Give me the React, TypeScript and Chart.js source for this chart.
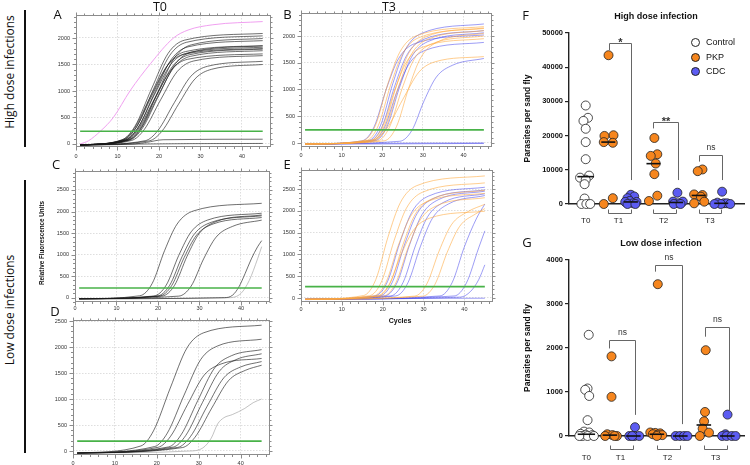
import React, { useEffect, useRef } from 'react';
import { Chart, registerables } from 'chart.js';

Chart.register(...registerables);

type Pt = [number, number];

// ======================= DATA =======================
// qPCR amplification plots: every curve is a short list of [cycle, RFU] points
const CYCLE_TICKS = [0, 10, 20, 30, 40];
const RFU_TICKS_2000 = [0, 500, 1000, 1500, 2000];
const RFU_TICKS_2500 = [0, 500, 1000, 1500, 2000, 2500];
const THRESHOLD_CYCLES = [1, 45];

const A_THRESHOLD = 240;
const A_PINK: Pt[][] = [
  [[1, 0], [3, 60], [6, 250], [9, 500], [13, 1000], [18, 1520], [23.5, 2000], [27, 2150], [33, 2250], [45, 2310]],
];
const A_BLACK: Pt[][] = [
  [[1, -20], [11.2, 83], [14.2, 334], [18.2, 1040], [22.2, 1710], [26.2, 1960], [45, 2085]],
  [[1, -20], [11.6, 82], [14.6, 326], [18.6, 1020], [22.6, 1673], [26.6, 1918], [45, 2040]],
  [[1, -20], [12, 78], [15, 312], [19, 975], [23, 1599], [27, 1833], [45, 1950]],
  [[1, -20], [11.4, 74], [14.4, 297], [18.4, 928], [22.4, 1521], [26.4, 1744], [45, 1855]],
  [[1, -20], [11.8, 73], [14.8, 292], [18.8, 913], [22.8, 1497], [26.8, 1716], [45, 1825]],
  [[1, -20], [12.3, 72], [15.3, 286], [19.3, 895], [23.3, 1468], [27.3, 1683], [45, 1790]],
  [[1, -20], [12.6, 70], [15.6, 282], [19.6, 880], [23.6, 1443], [27.6, 1654], [45, 1760]],
  [[1, -20], [13, 74], [16, 296], [20, 925], [24, 1517], [28, 1739], [45, 1850]],
  [[1, -20], [13.4, 67], [16.4, 267], [20.4, 834], [24.4, 1367], [28.4, 1567], [45, 1667]],
  [[1, -20], [11.9, 68], [14.9, 272], [18.9, 850], [22.9, 1394], [26.9, 1598], [45, 1700]],
  [[1, -20], [11, 72], [14, 288], [18, 900], [22, 1476], [26, 1692], [45, 1800]],
  [[1, -20], [12.8, 80], [15.8, 318], [19.8, 995], [23.8, 1632], [27.8, 1871], [45, 1990]],
  [[1, -20], [16.7, 62], [19.7, 250], [23.7, 780], [27.7, 1279], [31.7, 1466], [45, 1560]],
  [[1, -20], [17.7, 60], [20.7, 240], [24.7, 750], [28.7, 1230], [32.7, 1410], [45, 1500]],
  [[1, -20], [14, 0], [17, 30], [21, 80], [45, 90]],
  [[1, -25], [10, -5], [45, 10]],
];

const B_THRESHOLD = 245;
const B_ORANGE: Pt[][] = [
  [[1, -20], [15.3, 44], [18.3, 326], [21.3, 1088], [24.3, 1697], [28.3, 2001], [45, 2175]],
  [[1, -20], [16, 43], [19, 321], [22, 1070], [25, 1669], [29, 1969], [45, 2140]],
  [[1, -20], [17, 39], [20, 293], [23, 975], [26, 1521], [30, 1794], [45, 1950]],
  [[1, -20], [18, 42], [21, 315], [24, 1050], [27, 1638], [31, 1932], [45, 2100]],
  [[1, -20], [18.8, 40], [21.8, 300], [24.8, 1000], [27.8, 1560], [31.8, 1840], [45, 2000]],
  [[1, -20], [18, 65], [21, 258], [25, 808], [29, 1324], [33, 1518], [45, 1615]],
  [[1, -20], [20.5, 41], [23.5, 308], [26.5, 1025], [29.5, 1599], [33.5, 1886], [45, 2050]],
  [[1, -20], [17.5, 43], [20.5, 323], [23.5, 1075], [26.5, 1677], [30.5, 1978], [45, 2150]],
];
const B_BLUE: Pt[][] = [
  [[1, -20], [15, 40], [18, 303], [21, 1010], [24, 1576], [28, 1858], [45, 2020]],
  [[1, -20], [16.6, 45], [19.6, 334], [22.6, 1113], [25.6, 1736], [29.6, 2047], [45, 2225]],
  [[1, -20], [17, 42], [20, 315], [23, 1050], [26, 1638], [30, 1932], [45, 2100]],
  [[1, -20], [17.5, 38], [20.5, 282], [23.5, 940], [26.5, 1466], [30.5, 1730], [45, 1880]],
  [[1, -20], [18.2, 41], [21.2, 309], [24.2, 1030], [27.2, 1607], [31.2, 1895], [45, 2060]],
  [[1, -20], [24.3, 32], [27.3, 237], [30.3, 790], [33.3, 1232], [37.3, 1454], [45, 1580]],
  [[1, -30], [10, -10], [45, 0]],
  [[1, -25], [45, -8]],
];

const C_THRESHOLD = 225;
const C_BLACK: Pt[][] = [
  [[1, -25], [15.6, 44], [18.6, 329], [21.6, 1095], [24.6, 1708], [28.6, 2015], [45, 2190]],
  [[1, -25], [19, 39], [22, 294], [25, 980], [28, 1529], [32, 1803], [45, 1960]],
  [[1, -25], [19.8, 38], [22.8, 285], [25.8, 950], [28.8, 1482], [32.8, 1748], [45, 1900]],
  [[1, -25], [20.3, 37], [23.3, 279], [26.3, 930], [29.3, 1451], [33.3, 1711], [45, 1860]],
  [[1, -25], [21, 38], [24, 288], [27, 960], [30, 1498], [34, 1766], [45, 1920]],
  [[1, -25], [25, 36], [28, 270], [31, 900], [34, 1404], [38, 1656], [45, 1800]],
  [[1, -25], [36, 0], [38, 60], [39.5, 250], [41, 560], [42.5, 900], [44, 1180], [45, 1324]],
];
const C_LIGHT: Pt[][] = [
  [[1, -25], [37, 0], [40, 100], [42, 400], [44, 900], [45, 1185]],
];

const D_THRESHOLD = 190;
const D_BLACK: Pt[][] = [
  [[1, -40], [16.2, 97], [19.2, 387], [23.2, 1210], [27.2, 1984], [31.2, 2275], [45, 2420]],
  [[1, -40], [19.5, 86], [22.5, 344], [26.5, 1075], [30.5, 1763], [34.5, 2021], [45, 2150]],
  [[1, -40], [20.3, 71], [23.3, 285], [27.3, 890], [31.3, 1460], [35.3, 1673], [45, 1780]],
  [[1, -40], [22.8, 78], [25.8, 312], [29.8, 975], [33.8, 1599], [37.8, 1833], [45, 1950]],
  [[1, -40], [23.9, 75], [26.9, 299], [30.9, 935], [34.9, 1533], [38.9, 1758], [45, 1870]],
  [[1, -40], [25, 69], [28, 275], [32, 860], [36, 1410], [40, 1617], [45, 1720]],
  [[1, -40], [26.1, 66], [29.1, 264], [33.1, 825], [37.1, 1353], [41.1, 1551], [45, 1650]],
];
const D_LIGHT: Pt[][] = [
  [[1, -40], [28, 0], [31, 60], [33, 250], [34.5, 520], [36, 640], [38, 700], [41, 820], [43, 930], [45, 1000]],
];

const E_THRESHOLD = 260;
const E_ORANGE: Pt[][] = [
  [[1, -30], [15.3, 56], [18.3, 420], [21.3, 1400], [24.3, 2184], [28.3, 2576], [45, 2800]],
  [[1, -30], [16.8, 53], [19.8, 396], [22.8, 1320], [25.8, 2059], [29.8, 2429], [45, 2640]],
  [[1, -30], [17.8, 48], [20.8, 360], [23.8, 1200], [26.8, 1872], [30.8, 2208], [45, 2400]],
  [[1, -30], [19, 49], [22, 371], [25, 1235], [28, 1927], [32, 2272], [45, 2470]],
  [[1, -30], [20.2, 46], [23.2, 345], [26.2, 1150], [29.2, 1794], [33.2, 2116], [45, 2300]],
  [[1, -30], [18.5, 40], [21.5, 299], [24.5, 995], [27.5, 1552], [31.5, 1831], [45, 1990]],
  [[1, -30], [27.8, 43], [30.8, 323], [33.8, 1075], [36.8, 1677], [40.8, 1978], [45, 2150]],
  [[1, -30], [29.8, 42], [32.8, 315], [35.8, 1050], [38.8, 1638], [42.8, 1932], [45, 2050]],
];
const E_BLUE: Pt[][] = [
  [[1, -30], [18.2, 51], [21.2, 381], [24.2, 1270], [27.2, 1981], [31.2, 2337], [45, 2540]],
  [[1, -30], [19.4, 50], [22.4, 372], [25.4, 1240], [28.4, 1934], [32.4, 2282], [45, 2480]],
  [[1, -30], [20.6, 49], [23.6, 368], [26.6, 1225], [29.6, 1911], [33.6, 2254], [45, 2450]],
  [[1, -30], [22, 48], [25, 359], [28, 1195], [31, 1864], [35, 2199], [45, 2390]],
  [[1, -30], [23.2, 47], [26.2, 353], [29.2, 1175], [32.2, 1833], [36.2, 2162], [45, 2350]],
  [[1, -30], [34, 47], [37, 353], [40, 1175], [43, 1833], [45, 2155]],
  [[1, -30], [37.5, 46], [40.5, 345], [43.5, 1150], [45, 1540]],
  [[1, -30], [39, 20], [41.5, 150], [43.5, 420], [45, 760]],
  [[1, -40], [10, -20], [45, -5]],
];

// Parasite counts per sand fly (dot plots F and G)
const TIME_LABELS = ['T0', 'T1', 'T2', 'T3'];
const TIME_LABEL_SLOTS = [0, 1.45, 3.45, 5.5];
const F_Y_TICKS = [0, 10000, 20000, 30000, 40000, 50000];
const G_Y_TICKS = [0, 1000, 2000, 3000, 4000];

const F_CONTROL_T0 = [28800, 25200, 24300, 22000, 18100, 13100, 8300, 7700, 7100, 5800, 1600, 0, 0, 0];
const F_CONTROL_T0_SPREAD = [0, 0.1, -0.1, 0, 0, 0, 0.15, -0.25, 0, -0.05, -0.05, -0.19, 0.03, 0.2];
const F_PKP_T1 = [43500, 20100, 19900, 18100, 17900, 1700, 0];
const F_PKP_T1_SPREAD = [0.01, 0.23, -0.17, -0.2, 0.2, 0.2, -0.2];
const F_CDC_T1 = [2700, 2200, 1700, 900, 600, 600, 200, 0, 0];
const F_CDC_T1_SPREAD = [0, 0.15, -0.15, -0.05, -0.25, 0.25, 0.1, -0.15, 0.2];
const F_PKP_T2 = [19300, 14550, 14070, 11830, 8730, 2430, 870];
const F_PKP_T2_SPREAD = [0.04, 0.17, -0.12, 0.1, 0.04, 0.17, -0.2];
const F_CDC_T2 = [3300, 700, 700, 200, 0, 0];
const F_CDC_T2_SPREAD = [0.06, -0.13, 0.3, 0.1, -0.1, 0.2];
const F_PKP_T3 = [10100, 9600, 2800, 2620, 2130, 680, 200];
const F_PKP_T3_SPREAD = [0.17, -0.04, -0.2, 0.17, 0.1, 0.25, -0.2];
const F_CDC_T3 = [3600, 400, 200, 200, 0, 0, 0];
const F_CDC_T3_SPREAD = [0.04, -0.17, 0.12, 0.26, -0.02, -0.3, 0.4];
const F_MEDIANS = [8000, 18100, 600, 11800, 450, 2500, 200];

const G_CONTROL_T0 = [2300, 1080, 1050, 910, 360, 100, 80, 50, 30, 20, 0, 0, 0, 0];
const G_CONTROL_T0_SPREAD = [0.1, 0.05, -0.05, 0.12, 0.05, -0.1, 0.12, -0.25, -0.03, 0.25, -0.17, 0.05, 0.32, -0.3];
const G_PKP_T1 = [1810, 890, 40, 20, 0, 0, 0];
const G_PKP_T1_SPREAD = [0.07, 0.07, -0.11, 0.11, 0.3, -0.2, 0.2];
const G_CDC_T1 = [200, 0, 0, 0, 0];
const G_CDC_T1_SPREAD = [0.07, -0.17, 0.05, 0.25, -0.05];
const G_PKP_T2 = [3450, 80, 70, 60, 40, 30, 20, 0];
const G_PKP_T2_SPREAD = [0.04, -0.28, -0.07, 0.14, -0.17, 0.04, 0.23, 0];
const G_CDC_T2 = [0, 0, 0, 0];
const G_CDC_T2_SPREAD = [-0.2, -0.02, 0.16, 0.3];
const G_PKP_T3 = [1950, 546, 334, 167, 76, 0];
const G_PKP_T3_SPREAD = [0.08, 0.05, 0.01, -0.05, 0.22, -0.17];
const G_CDC_T3 = [486, 40, 0, 0, 0, 0];
const G_CDC_T3_SPREAD = [0.01, -0.08, -0.22, -0.03, 0.19, 0.35];
const G_MEDIANS = [40, 20, 0, 40, 0, 250, 0];

// significance brackets: [left slot, right slot, top value, left foot value, right foot value, label]
const F_SIGNIFICANCE: [number, number, number, number, number, string][] = [
  [1.04, 2, 47200, 45000, 7000, '*'],
  [3, 4.1, 24000, 22100, 7000, '**'],
  [5.03, 6.04, 14300, 12400, 7000, 'ns'],
];
const G_SIGNIFICANCE: [number, number, number, number, number, string][] = [
  [0.97, 2.07, 2180, 1990, 480, 'ns'],
  [2.9, 4.05, 3886, 3735, 270, 'ns'],
  [5.07, 6.07, 2470, 2257, 590, 'ns'],
];
const GROUP_BRACKETS: [number, number][] = [[1, 2], [3, 4], [5, 6]];

// ======================= STYLE / LAYOUT =======================
const FONT = "'Liberation Sans', Arial, sans-serif";
const SANS = "'Open Sans', 'Noto Sans', sans-serif";
const BLACK_LINE = 'rgba(25,25,25,0.78)';
const PINK_LINE = 'rgba(238,150,238,0.9)';
const ORANGE_LINE = 'rgba(255,168,60,0.72)';
const BLUE_LINE = 'rgba(55,55,235,0.62)';
const LIGHT_LINE = 'rgba(170,170,170,0.9)';
const GREEN_LINE = 'rgb(72,178,72)';
const CONTROL_FILL = '#ffffff';
const PKP_FILL = 'rgb(246,134,30)';
const CDC_FILL = 'rgb(92,92,242)';

interface QBox {
  left: number; top: number; width: number; height: number;
  yAxisW: number; xAxisH: number; padTop: number; padRight: number; xLabelPad: number;
  yMin: number; yMax: number;
}
const A_BOX: QBox = { left: 40, top: 5, width: 235, height: 156, yAxisW: 36, xAxisH: 14, padTop: 10, padRight: 4, xLabelPad: 5.7, yMin: -57, yMax: 2434 };
const B_BOX: QBox = { left: 265, top: 3, width: 231, height: 158, yAxisW: 36, xAxisH: 14, padTop: 10, padRight: 4, xLabelPad: 5.2, yMin: -75, yMax: 2430 };
const C_BOX: QBox = { left: 39, top: 161, width: 235, height: 155, yAxisW: 36, xAxisH: 14, padTop: 10, padRight: 4, xLabelPad: 3.5, yMin: -100, yMax: 2940 };
const D_BOX: QBox = { left: 37, top: 310, width: 237, height: 157, yAxisW: 36, xAxisH: 12, padTop: 10, padRight: 4, xLabelPad: 4.7, yMin: -77, yMax: 2520 };
const E_BOX: QBox = { left: 265, top: 160, width: 232, height: 156, yAxisW: 36, xAxisH: 14, padTop: 10, padRight: 4, xLabelPad: 3.8, yMin: -92, yMax: 2936 };
const CYCLE_MAX = 47;

interface CurveGroup { curves: Pt[][]; color: string; width?: number }

const qpcrFrame = {
  id: 'qpcrFrame',
  afterDraw(chart: any) {
    const { ctx, chartArea: a, scales } = chart;
    const x = scales.x;
    const y = scales.y;
    ctx.save();
    ctx.strokeStyle = '#8c8c8c';
    ctx.lineWidth = 1;
    const l = Math.round(a.left) + 0.5;
    const t = Math.round(a.top) + 0.5;
    const r = Math.round(a.right) - 0.5;
    const b = Math.round(a.bottom) - 0.5;
    ctx.strokeRect(l, t, r - l, b - t);
    ctx.beginPath();
    for (let c = 0; c <= x.max + 1e-6; c += 2) {
      const px = Math.round(x.getPixelForValue(c)) + 0.5;
      const major = c % 10 === 0;
      ctx.moveTo(px, b); ctx.lineTo(px, b + (major ? 4 : 2.5));
      ctx.moveTo(px, t); ctx.lineTo(px, t - (major ? 3 : 2));
    }
    for (let v = Math.ceil(y.min / 100) * 100; v <= y.max; v += 100) {
      const py = Math.round(y.getPixelForValue(v)) + 0.5;
      const major = v % 500 === 0;
      ctx.moveTo(l, py); ctx.lineTo(l - (major ? 4 : 2.5), py);
      ctx.moveTo(r, py); ctx.lineTo(r + (major ? 3 : 2), py);
    }
    ctx.stroke();
    ctx.restore();
  },
};

function qpcrConfig(box: QBox, groups: CurveGroup[], threshold: number, yTicks: number[]): any {
  const datasets: any[] = [
    {
      data: THRESHOLD_CYCLES.map((c) => ({ x: c, y: threshold })),
      borderColor: GREEN_LINE, borderWidth: 1.6, pointRadius: 0,
    },
  ];
  groups.forEach((g) =>
    g.curves.forEach((curve) =>
      datasets.push({
        data: curve.map(([c, v]) => ({ x: c, y: v })),
        borderColor: g.color, borderWidth: g.width ?? 0.8, pointRadius: 0,
        cubicInterpolationMode: 'monotone', fill: false,
      }),
    ),
  );
  const grid = { color: '#d0d0d0', lineWidth: 0.7, drawTicks: false };
  const border = { display: false, dash: [1.5, 1.5] };
  const tickFont = { size: 5.5, family: FONT };
  return {
    type: 'line',
    data: { datasets },
    options: {
      responsive: false, animation: false, events: [],
      layout: { padding: { top: box.padTop, right: box.padRight, left: 0, bottom: 0 } },
      plugins: { legend: { display: false }, tooltip: { enabled: false } },
      scales: {
        x: {
          type: 'linear', min: 0, max: CYCLE_MAX,
          afterBuildTicks: (s: any) => { s.ticks = CYCLE_TICKS.map((v) => ({ value: v })); },
          afterFit: (s: any) => { s.height = box.xAxisH; },
          ticks: { font: tickFont, color: '#333', padding: box.xLabelPad, maxRotation: 0, autoSkip: false, callback: (v: any) => String(v) },
          grid, border,
        },
        y: {
          type: 'linear', min: box.yMin, max: box.yMax,
          afterBuildTicks: (s: any) => { s.ticks = yTicks.map((v) => ({ value: v })); },
          afterFit: (s: any) => { s.width = box.yAxisW; },
          ticks: { font: tickFont, color: '#333', padding: 6, autoSkip: false, callback: (v: any) => String(v) },
          grid, border,
        },
      },
    },
    plugins: [qpcrFrame],
  };
}

interface DotBox {
  left: number; top: number; width: number; height: number;
  yAxisW: number; xAxisH: number; padTop: number; padRight: number; xLabelPad: number;
  xMin: number; xMax: number; yMax: number; bracketGap: number;
}
const F_BOX: DotBox = { left: 519, top: 20, width: 231, height: 208, yAxisW: 50, xAxisH: 24, padTop: 13, padRight: 2, xLabelPad: 11.5, xMin: -0.74, xMax: 7.04, yMax: 50000, bracketGap: 9.3 };
const G_BOX: DotBox = { left: 519, top: 245, width: 231, height: 219, yAxisW: 50, xAxisH: 28, padTop: 15, padRight: 0, xLabelPad: 17, xMin: -0.74, xMax: 6.74, yMax: 4000, bracketGap: 13.3 };

interface DotGroup { slot: number; values: number[]; spread: number[]; fill: string }

function sigPlugin(sig: [number, number, number, number, number, string][], gap: number) {
  return {
    id: 'sig',
    afterDraw(chart: any) {
      const { ctx, scales, chartArea } = chart;
      const x = scales.x;
      const y = scales.y;
      ctx.save();
      ctx.strokeStyle = '#666';
      ctx.lineWidth = 1;
      ctx.fillStyle = '#333';
      ctx.textAlign = 'center';
      ctx.textBaseline = 'alphabetic';
      sig.forEach(([s1, s2, top, footL, footR, label]) => {
        const x1 = Math.round(x.getPixelForValue(s1)) + 0.5;
        const x2 = Math.round(x.getPixelForValue(s2)) + 0.5;
        const yt = Math.round(y.getPixelForValue(top)) + 0.5;
        ctx.beginPath();
        ctx.moveTo(x1, y.getPixelForValue(footL));
        ctx.lineTo(x1, yt);
        ctx.lineTo(x2, yt);
        ctx.lineTo(x2, y.getPixelForValue(footR));
        ctx.stroke();
        if (label === 'ns') {
          ctx.font = `8.5px ${FONT}`;
          ctx.fillText(label, (x1 + x2) / 2, yt - 6);
        } else {
          ctx.font = `bold 11px ${FONT}`;
          ctx.fillText(label, (x1 + x2) / 2, yt + 2);
        }
      });
      const yb = Math.round(chartArea.bottom + gap) + 0.5;
      ctx.beginPath();
      GROUP_BRACKETS.forEach(([s1, s2]) => {
        const x1 = Math.round(x.getPixelForValue(s1)) + 0.5;
        const x2 = Math.round(x.getPixelForValue(s2)) + 0.5;
        ctx.moveTo(x1, yb - 4);
        ctx.lineTo(x1, yb);
        ctx.lineTo(x2, yb);
        ctx.lineTo(x2, yb - 4);
      });
      ctx.stroke();
      ctx.restore();
    },
  };
}

function dotConfig(box: DotBox, groups: DotGroup[], medians: number[], yTicks: number[], sig: any): any {
  const medianSets = groups.map((g, i) => {
    const hw = g.slot === 0 ? 0.37 : 0.31;
    return {
      type: 'line', showLine: true, clip: false,
      data: [{ x: g.slot - hw, y: medians[i] }, { x: g.slot + hw, y: medians[i] }],
      borderColor: '#111', borderWidth: 1.6, pointRadius: 0,
    };
  });
  const pointSets = groups.map((g) => ({
    clip: false,
    data: g.values.map((v, i) => ({ x: g.slot + g.spread[i], y: v })),
    backgroundColor: g.fill, borderColor: '#222', borderWidth: 0.8,
    pointRadius: 4.5, showLine: false,
  }));
  const axisBorder = { display: true, color: '#222', width: 1.4 };
  return {
    type: 'scatter',
    data: { datasets: [...medianSets, ...pointSets] },
    options: {
      responsive: false, animation: false, events: [],
      layout: { padding: { top: box.padTop, right: box.padRight, left: 0, bottom: 0 } },
      plugins: { legend: { display: false }, tooltip: { enabled: false } },
      scales: {
        x: {
          type: 'linear', min: box.xMin, max: box.xMax,
          afterBuildTicks: (s: any) => { s.ticks = TIME_LABEL_SLOTS.map((v) => ({ value: v })); },
          afterFit: (s: any) => { s.height = box.xAxisH; },
          ticks: { font: { size: 8, family: FONT }, color: '#222', padding: box.xLabelPad, maxRotation: 0, autoSkip: false, callback: (_v: any, i: number) => TIME_LABELS[i] },
          grid: { display: false, drawTicks: false },
          border: axisBorder,
        },
        y: {
          type: 'linear', min: 0, max: box.yMax,
          afterBuildTicks: (s: any) => { s.ticks = yTicks.map((v) => ({ value: v })); },
          afterFit: (s: any) => { s.width = box.yAxisW; },
          ticks: { font: { size: 7.5, family: FONT, weight: 'bold' }, color: '#111', padding: 2, autoSkip: false, callback: (v: any) => String(v) },
          grid: { drawOnChartArea: false, drawTicks: true, tickLength: 4, color: '#222', lineWidth: 1.2 },
          border: axisBorder,
          title: { display: true, text: 'Parasites per sand fly', font: { size: 8.5, family: FONT, weight: 'bold' }, color: '#111', padding: { top: 4, bottom: 0 } },
        },
      },
    },
    plugins: [sigPlugin(sig, box.bracketGap)],
  };
}

function ChartCanvas({ box, make }: { box: { left: number; top: number; width: number; height: number }; make: () => any }) {
  const ref = useRef<HTMLCanvasElement>(null);
  useEffect(() => {
    const chart = new Chart(ref.current as HTMLCanvasElement, make());
    return () => chart.destroy();
  }, []);
  return (
    <canvas
      ref={ref}
      width={box.width}
      height={box.height}
      style={{ position: 'absolute', left: box.left, top: box.top, width: box.width, height: box.height }}
    />
  );
}

function Txt(props: { x: number; y: number; size: number; text: string; weight?: number; family?: string; rotate?: number; anchor?: 'center' | 'left' }) {
  const { x, y, size, text, weight = 400, family = SANS, rotate = 0, anchor = 'center' } = props;
  const tx = anchor === 'center' ? '-50%' : '0';
  return (
    <div
      style={{
        position: 'absolute', left: x, top: y, transform: `translate(${tx},-50%) rotate(${rotate}deg)`,
        fontSize: size, fontWeight: weight, fontFamily: family, lineHeight: 1, whiteSpace: 'nowrap', color: '#111',
      }}
    >
      {text}
    </div>
  );
}

function Dot({ x, y, fill }: { x: number; y: number; fill: string }) {
  return (
    <div style={{ position: 'absolute', left: x - 4.5, top: y - 4.5, width: 9, height: 9, boxSizing: 'border-box', borderRadius: '50%', border: '0.8px solid #222', background: fill }} />
  );
}

const F_GROUPS: DotGroup[] = [
  { slot: 0, values: F_CONTROL_T0, spread: F_CONTROL_T0_SPREAD, fill: CONTROL_FILL },
  { slot: 1, values: F_PKP_T1, spread: F_PKP_T1_SPREAD, fill: PKP_FILL },
  { slot: 2, values: F_CDC_T1, spread: F_CDC_T1_SPREAD, fill: CDC_FILL },
  { slot: 3, values: F_PKP_T2, spread: F_PKP_T2_SPREAD, fill: PKP_FILL },
  { slot: 4, values: F_CDC_T2, spread: F_CDC_T2_SPREAD, fill: CDC_FILL },
  { slot: 5, values: F_PKP_T3, spread: F_PKP_T3_SPREAD, fill: PKP_FILL },
  { slot: 6, values: F_CDC_T3, spread: F_CDC_T3_SPREAD, fill: CDC_FILL },
];
const G_GROUPS: DotGroup[] = [
  { slot: 0, values: G_CONTROL_T0, spread: G_CONTROL_T0_SPREAD, fill: CONTROL_FILL },
  { slot: 1, values: G_PKP_T1, spread: G_PKP_T1_SPREAD, fill: PKP_FILL },
  { slot: 2, values: G_CDC_T1, spread: G_CDC_T1_SPREAD, fill: CDC_FILL },
  { slot: 3, values: G_PKP_T2, spread: G_PKP_T2_SPREAD, fill: PKP_FILL },
  { slot: 4, values: G_CDC_T2, spread: G_CDC_T2_SPREAD, fill: CDC_FILL },
  { slot: 5, values: G_PKP_T3, spread: G_PKP_T3_SPREAD, fill: PKP_FILL },
  { slot: 6, values: G_CDC_T3, spread: G_CDC_T3_SPREAD, fill: CDC_FILL },
];

export default function App() {
  return (
    <div style={{ position: 'fixed', left: 0, top: 0, width: 750, height: 465, background: '#fff', overflow: 'hidden' }}>
      <ChartCanvas box={A_BOX} make={() => qpcrConfig(A_BOX, [{ curves: A_BLACK, color: BLACK_LINE }, { curves: A_PINK, color: PINK_LINE, width: 1 }], A_THRESHOLD, RFU_TICKS_2000)} />
      <ChartCanvas box={B_BOX} make={() => qpcrConfig(B_BOX, [{ curves: B_ORANGE, color: ORANGE_LINE }, { curves: B_BLUE, color: BLUE_LINE }], B_THRESHOLD, RFU_TICKS_2000)} />
      <ChartCanvas box={C_BOX} make={() => qpcrConfig(C_BOX, [{ curves: C_BLACK, color: BLACK_LINE }, { curves: C_LIGHT, color: LIGHT_LINE }], C_THRESHOLD, RFU_TICKS_2500)} />
      <ChartCanvas box={D_BOX} make={() => qpcrConfig(D_BOX, [{ curves: D_BLACK, color: BLACK_LINE }, { curves: D_LIGHT, color: LIGHT_LINE }], D_THRESHOLD, RFU_TICKS_2500)} />
      <ChartCanvas box={E_BOX} make={() => qpcrConfig(E_BOX, [{ curves: E_ORANGE, color: ORANGE_LINE }, { curves: E_BLUE, color: BLUE_LINE }], E_THRESHOLD, RFU_TICKS_2500)} />
      <ChartCanvas box={F_BOX} make={() => dotConfig(F_BOX, F_GROUPS, F_MEDIANS, F_Y_TICKS, F_SIGNIFICANCE)} />
      <ChartCanvas box={G_BOX} make={() => dotConfig(G_BOX, G_GROUPS, G_MEDIANS, G_Y_TICKS, G_SIGNIFICANCE)} />

      {/* side labels */}
      <Txt x={9.5} y={72} size={12} text="High dose infections" rotate={-90} />
      <Txt x={9.5} y={310} size={12} text="Low dose infections" rotate={-90} />
      <div style={{ position: 'absolute', left: 24, top: 10, width: 2, height: 137, background: '#111' }} />
      <div style={{ position: 'absolute', left: 24, top: 180, width: 2, height: 273, background: '#111' }} />

      {/* column headers and panel letters */}
      <Txt x={160} y={6.5} size={12.5} text="T0" />
      <Txt x={389} y={6.5} size={12.5} text="T3" />
      <Txt x={57.5} y={14} size={13} text="A" />
      <Txt x={287.5} y={14} size={13} text="B" />
      <Txt x={56} y={164} size={13} text="C" />
      <Txt x={55} y={311} size={13} text="D" />
      <Txt x={287} y={164} size={13} text="E" />
      <Txt x={525.5} y={15} size={13} text="F" />
      <Txt x={527} y={241.5} size={13} text="G" />

      {/* qPCR axis titles */}
      <Txt x={42} y={243} size={6.3} weight={700} family={FONT} text="Relative Fluorescence Units" rotate={-90} />
      <Txt x={400} y={319.5} size={7} weight={700} family={FONT} text="Cycles" />

      {/* dot plot titles and legend */}
      <Txt x={656} y={15.5} size={9} weight={700} family={FONT} text="High dose infection" />
      <Txt x={661} y={242.5} size={9} weight={700} family={FONT} text="Low dose infection" />
      <Dot x={695} y={42} fill={CONTROL_FILL} />
      <Dot x={695} y={57} fill={PKP_FILL} />
      <Dot x={695} y={71} fill={CDC_FILL} />
      <Txt x={706} y={42} size={9} family={FONT} anchor="left" text="Control" />
      <Txt x={706} y={57} size={9} family={FONT} anchor="left" text="PKP" />
      <Txt x={706} y={71} size={9} family={FONT} anchor="left" text="CDC" />
    </div>
  );
}
